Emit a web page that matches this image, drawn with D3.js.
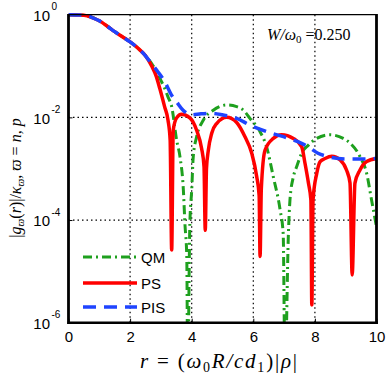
<!DOCTYPE html>
<html><head><meta charset="utf-8">
<script src="https://cdn.jsdelivr.net/npm/d3@7"></script>
<style>html,body{margin:0;padding:0;background:#fff;}svg{display:block;}</style>
</head><body>
<svg id="c" width="388" height="378"></svg>
<script>
// ---- data ----
const xTicks = [0, 2, 4, 6, 8, 10];
const yTickExps = [0, -2, -4, -6];
const seriesNames = ["QM", "PS", "PIS"];

const qmR = [0,0.5,0.75,1.0,1.25,1.5,1.75,2.0,2.25,2.5,2.7,2.85,3.0,3.12,3.23,3.35,3.51,3.62,3.73,3.78,3.84,3.87,3.94,4.0,4.05,4.16,4.38,4.7,5.14,5.46,5.68,5.89,6.22,6.43,6.65,6.87,6.97,7.03,7.14,7.19,7.3,7.41,7.57,7.79,8.06,8.49,8.92,9.14,9.46,9.68,9.84,10];
const qmV = [1,0.977,0.891,0.759,0.603,0.468,0.372,0.295,0.224,0.158,0.112,0.0794,0.0525,0.0372,0.0251,0.0162,0.00363,0.0017,0.00038,8.5e-5,1.95e-5,1e-7,8.5e-5,0.00038,0.0017,0.00417,0.00891,0.0138,0.0174,0.0162,0.0138,0.00955,0.00525,0.00269,0.000692,0.000158,5.5e-5,1e-7,5.5e-5,0.000245,0.000692,0.0011,0.002,0.00288,0.00389,0.00457,0.00389,0.00316,0.00174,0.000813,0.000245,7.4e-5];

const psR = [0,0.5,0.75,1.0,1.25,1.5,1.75,2.0,2.25,2.5,2.7,2.85,2.96,3.12,3.23,3.3,3.35,3.4,3.51,3.67,3.94,4.16,4.32,4.4,4.44,4.48,4.54,4.65,4.81,5.14,5.46,5.73,5.95,6.11,6.19,6.22,6.26,6.38,6.65,6.92,7.3,7.57,7.68,7.79,7.87,7.9,7.94,8.06,8.17,8.33,8.55,8.82,9.03,9.14,9.21,9.3,9.46,9.68,10];
const psV = [1,0.977,0.891,0.759,0.603,0.468,0.372,0.295,0.224,0.158,0.1,0.063,0.0372,0.0162,0.0089,0.00363,2.6e-5,0.00562,0.00977,0.0115,0.00977,0.00562,0.00251,0.0011,6.3e-5,0.001,0.00229,0.0049,0.00759,0.01,0.00794,0.00417,0.002,0.000708,0.0003,1.95e-5,0.0004,0.00229,0.00389,0.00457,0.00389,0.00269,0.00126,0.000525,0.000245,2.2e-6,0.00025,0.000813,0.00138,0.00158,0.00174,0.00148,0.000933,0.000525,8.5e-6,0.000525,0.000933,0.00138,0.00158];

const pisR = [0,0.5,0.75,1.0,1.25,1.5,1.75,2.0,2.25,2.5,2.7,2.9,3.12,3.34,3.5,3.72,4.0,4.3,4.65,5.0,5.46,5.89,6.55,7.2,7.55,7.85,8.1,8.4,9.0,9.5,10];
const pisV = [1,0.977,0.891,0.759,0.603,0.468,0.372,0.295,0.224,0.158,0.11,0.0776,0.0501,0.0275,0.0204,0.0138,0.0112,0.0117,0.012,0.0112,0.00955,0.00708,0.00501,0.0038,0.00316,0.00251,0.002,0.00174,0.00155,0.00155,0.00158];

// ---- drawing ----
const svg = d3.select("#c");
const L = 68.5, R = 376.5, T = 14.7, B = 322.7;
const x = d3.scaleLinear().domain([0, 10]).range([L, R]);
const y = d3.scaleLog().domain([1e-6, 1]).range([B, T]);

svg.append("rect").attr("width", 388).attr("height", 378).attr("fill", "#fff");

svg.append("defs").append("clipPath").attr("id", "clip")
  .append("rect").attr("x", L).attr("y", T - 4).attr("width", R - L).attr("height", B - T + 4);

// grid (dotted)
const grid = svg.append("g").attr("stroke", "#000").attr("stroke-width", 1.2).attr("stroke-dasharray", "1.5,3");
xTicks.filter(v => v > 0 && v < 10).forEach(v => {
  grid.append("line").attr("x1", x(v)).attr("x2", x(v)).attr("y1", T).attr("y2", B);
});
yTickExps.filter(e => e < 0 && e > -6).forEach(e => {
  grid.append("line").attr("x1", L).attr("x2", R).attr("y1", y(Math.pow(10, e))).attr("y2", y(Math.pow(10, e)));
});

// axes via d3
const xAxis = d3.axisBottom(x).tickValues(xTicks).tickSize(-4).tickFormat(d3.format("d")).tickPadding(9);
const gx = svg.append("g").attr("transform", `translate(0,${B})`).call(xAxis);
gx.select(".domain").remove();
gx.selectAll("text").attr("font-family", "'Liberation Sans', Arial, sans-serif").attr("font-size", 15).attr("fill", "#000");
gx.selectAll("line").attr("stroke", "#000");

const yAxis = d3.axisLeft(y).tickValues(yTickExps.map(e => Math.pow(10, e))).tickSize(-4).tickFormat("");
const gy = svg.append("g").attr("transform", `translate(${L},0)`).call(yAxis);
gy.select(".domain").remove();
gy.selectAll("line").attr("stroke", "#000");

yTickExps.forEach(e => {
  const yy = y(Math.pow(10, e));
  svg.append("text").attr("font-family", "'Liberation Sans', Arial, sans-serif").attr("fill", "#000")
    .attr("x", 50).attr("y", yy + 6.3).attr("text-anchor", "end").attr("font-size", 15).text("10");
  svg.append("text").attr("font-family", "'Liberation Sans', Arial, sans-serif").attr("fill", "#000")
    .attr("x", 51.5).attr("y", yy - 4.5).attr("font-size", 10).text(e === 0 ? "0" : "-" + Math.abs(e));
});

// curves
const line = d3.line().x(d => x(d[0])).y(d => y(Math.max(d[1], 1e-8))).curve(d3.curveMonotoneX);
const plot = svg.append("g").attr("clip-path", "url(#clip)");
const green = "#1ea01e", red = "#ff0000", blue = "#1f44ff";
const styles = {
  QM: {color: green, dash: "9,4,2,4", w: 3},
  PS: {color: red, dash: null, w: 3.5},
  PIS: {color: blue, dash: "13,8", w: 3.5}
};
const dataMap = {
  QM: d3.zip(qmR, qmV),
  PS: d3.zip(psR, psV),
  PIS: d3.zip(pisR, pisV)
};
seriesNames.forEach(n => {
  plot.append("path").datum(dataMap[n]).attr("d", line)
    .attr("fill", "none").attr("stroke", styles[n].color).attr("stroke-width", styles[n].w)
    .attr("stroke-dasharray", styles[n].dash).attr("stroke-linejoin", "round");
});

// box
svg.append("line").attr("x1", L).attr("x2", R).attr("y1", T).attr("y2", T).attr("stroke", "#000").attr("stroke-width", 1.3);
svg.append("line").attr("x1", L - 1).attr("x2", R + 1.5).attr("y1", B).attr("y2", B).attr("stroke", "#000").attr("stroke-width", 2.6);
svg.append("line").attr("x1", L).attr("x2", L).attr("y1", T - 0.6).attr("y2", B + 1.3).attr("stroke", "#000").attr("stroke-width", 2.8);
svg.append("line").attr("x1", R).attr("x2", R).attr("y1", T - 0.6).attr("y2", B + 1.3).attr("stroke", "#000").attr("stroke-width", 2.8);

// legend
const legY = [257, 283, 307];
seriesNames.forEach((n, i) => {
  svg.append("line").attr("x1", 83).attr("x2", 137).attr("y1", legY[i]).attr("y2", legY[i])
    .attr("stroke", styles[n].color).attr("stroke-width", styles[n].w).attr("stroke-dasharray", styles[n].dash);
  svg.append("text").attr("x", 141).attr("y", legY[i] + 5.5)
    .attr("font-family", "'Liberation Sans', Arial, sans-serif").attr("font-size", 15).attr("fill", "#000").text(n);
});

// annotation
const ann = svg.append("text").attr("x", 267).attr("y", 40).attr("font-family", "'Liberation Serif', 'Times New Roman', serif").attr("font-size", 16).attr("fill", "#000");
ann.append("tspan").attr("font-style", "italic").text("W/ω");
ann.append("tspan").attr("font-size", 11).attr("dy", 3).text("0");
ann.append("tspan").attr("dy", -3).text(" =0.250");

// x label
const xl = svg.append("text").attr("x", 140).attr("y", 368).attr("font-family", "'Liberation Serif', 'Times New Roman', serif").attr("font-size", 21).attr("fill", "#000")
  .attr("textLength", 157).attr("lengthAdjust", "spacing");
xl.append("tspan").attr("font-style", "italic").text("r");
xl.append("tspan").text(" = (");
xl.append("tspan").attr("font-style", "italic").text("ω");
xl.append("tspan").attr("font-size", 14).attr("dy", 4).text("0");
xl.append("tspan").attr("dy", -4).attr("font-style", "italic").text("R/cd");
xl.append("tspan").attr("font-size", 14).attr("dy", 4).text("1");
xl.append("tspan").attr("dy", -4).text(")|");
xl.append("tspan").attr("font-style", "italic").text("ρ");
xl.append("tspan").text("|");

// y label
const yl = svg.append("text").attr("transform", "translate(21,178) rotate(-90)").attr("text-anchor", "middle")
  .attr("font-family", "'Liberation Serif', 'Times New Roman', serif").attr("font-size", 16).attr("fill", "#000");
yl.append("tspan").text("|");
yl.append("tspan").attr("font-style", "italic").text("g");
yl.append("tspan").attr("font-size", 11).attr("dy", 3).attr("font-style", "italic").text("ϖ");
yl.append("tspan").attr("dy", -3).text("(");
yl.append("tspan").attr("font-style", "italic").text("r");
yl.append("tspan").text(")|/");
yl.append("tspan").attr("font-style", "italic").text("κ");
yl.append("tspan").attr("font-size", 11).attr("dy", 3).attr("font-style", "italic").text("ϖ");
yl.append("tspan").attr("dy", -3).text(", ");
yl.append("tspan").attr("font-style", "italic").text("ϖ");
yl.append("tspan").text(" = ");
yl.append("tspan").attr("font-style", "italic").text("n, p");
</script>
</body></html>
